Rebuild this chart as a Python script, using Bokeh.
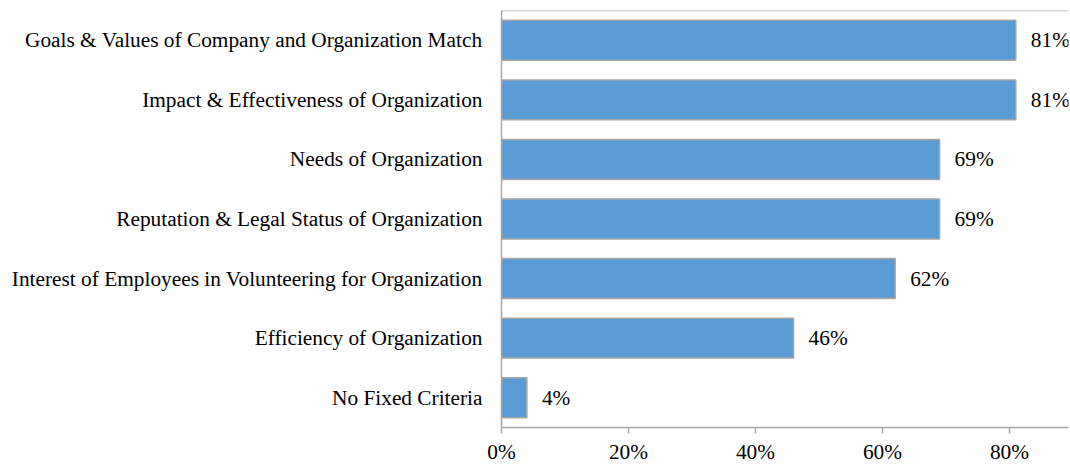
from bokeh.plotting import figure
from bokeh.models import Range1d, FixedTicker, PrintfTickFormatter, Span, ColumnDataSource
from bokeh.core.properties import value
from bokeh.embed import file_html
from bokeh.resources import INLINE

# Data (top to bottom)
categories = [
    "Goals & Values of Company and Organization Match",
    "Impact & Effectiveness of Organization",
    "Needs of Organization",
    "Reputation & Legal Status of Organization",
    "Interest of Employees in Volunteering for Organization",
    "Efficiency of Organization",
    "No Fixed Criteria",
]
values = [81, 81, 69, 69, 62, 46, 4]
x_ticks = [0, 20, 40, 60, 80]

n = len(categories)
ypos = [n - 1 - i for i in range(n)]
labels = [f"{v}%" for v in values]

FONT = "'Liberation Serif', 'Times New Roman', serif"
FSIZE = "16pt"
GRAY = "#A6A6A6"

src = ColumnDataSource(dict(y=ypos, v=values, lbl=labels))

p = figure(
    output_backend="svg", toolbar_location=None,
    frame_width=567, frame_height=417,
    x_range=Range1d(0, 89.3), y_range=Range1d(-0.5, n - 0.5),
    min_border_left=501, min_border_right=2, min_border_top=10, min_border_bottom=30,
)
p.outline_line_color = None
p.grid.visible = False
p.background_fill_color = "white"
p.border_fill_color = "white"

p.hbar(y="y", left=0, right="v", height=0.67, source=src,
       fill_color="#5B9BD5", line_color=GRAY, line_width=1.5)

p.text(x="v", y="y", text="lbl", source=src, x_offset=15,
       text_baseline="middle", text_align="left",
       text_font=value(FONT), text_font_size=FSIZE, text_color="#000000")

# top border line
p.add_layout(Span(location=n - 0.5, dimension="width", line_color=GRAY, line_width=1.5))

# x axis
xa = p.xaxis[0]
xa.ticker = FixedTicker(ticks=x_ticks)
xa.formatter = PrintfTickFormatter(format="%d%%")
xa.axis_line_color = GRAY
xa.axis_line_width = 1.5
xa.major_tick_line_color = GRAY
xa.major_tick_line_width = 1.5
xa.major_tick_out = 6
xa.major_tick_in = 0
xa.minor_tick_line_color = None
xa.major_label_text_font = FONT
xa.major_label_text_font_size = FSIZE
xa.major_label_text_color = "#000000"
xa.major_label_standoff = 6

# y axis
ya = p.yaxis[0]
ya.ticker = FixedTicker(ticks=ypos)
ya.major_label_overrides = {y: c for y, c in zip(ypos, categories)}
ya.axis_line_color = GRAY
ya.axis_line_width = 1.5
ya.major_tick_line_color = None
ya.minor_tick_line_color = None
ya.major_label_text_font = FONT
ya.major_label_text_font_size = FSIZE
ya.major_label_text_color = "#000000"
ya.major_label_standoff = 13

open("out.html", "w").write(file_html(p, INLINE))
